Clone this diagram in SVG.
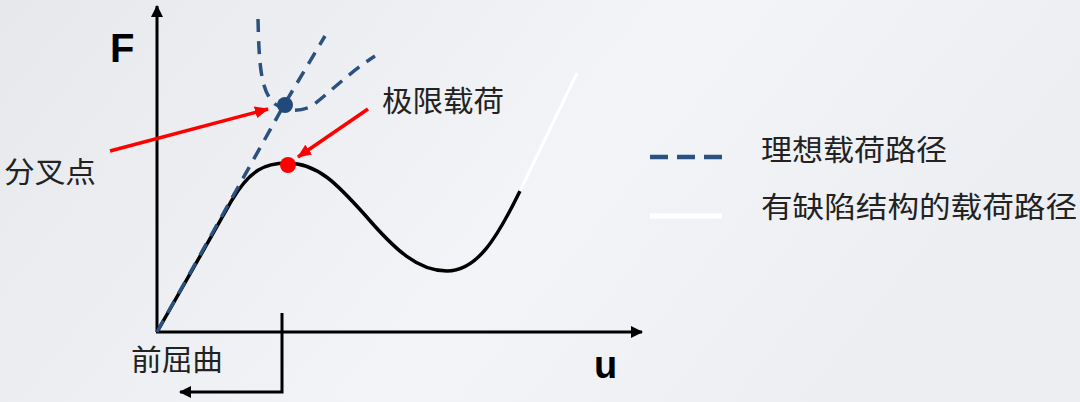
<svg xmlns="http://www.w3.org/2000/svg" width="1080" height="402" viewBox="0 0 1080 402">
<defs>
<linearGradient id="bg" x1="0" y1="0" x2="1" y2="0.3">
<stop offset="0" stop-color="#e6e8eb"/>
<stop offset="0.6" stop-color="#f2f4f7"/>
<stop offset="1" stop-color="#eceef1"/>
</linearGradient>
<marker id="blk" viewBox="0 0 12 12" refX="11" refY="6" markerWidth="12" markerHeight="12" markerUnits="userSpaceOnUse" orient="auto">
<path d="M0,0 L12,6 L0,12 Z" fill="#000"/>
</marker>
<marker id="red" viewBox="0 0 14 12" refX="13" refY="6" markerWidth="14" markerHeight="12" markerUnits="userSpaceOnUse" orient="auto">
<path d="M0,0 L14,6 L0,12 Z" fill="#ff0000"/>
</marker>
</defs>
<style>
.cn{font-family:"Noto Sans CJK SC","Liberation Sans",sans-serif;font-size:29px;fill:#222;}
.lab{font-family:"Liberation Sans",Arial,sans-serif;font-weight:bold;fill:#000;}
.axis{stroke:#000;stroke-width:3;fill:none;}
.dash{stroke:#2b5181;stroke-width:3.5;fill:none;stroke-dasharray:13 9;}
.arr{stroke:#ff0000;stroke-width:3.5;fill:none;}
</style>
<rect x="0" y="0" width="1080" height="402" fill="url(#bg)"/>
<g id="axes">
<line class="axis" x1="157" y1="332" x2="157" y2="6" marker-end="url(#blk)"/>
<line class="axis" x1="156" y1="332" x2="642" y2="332" marker-end="url(#blk)"/>
<text class="lab" x="110" y="62" font-size="40">F</text>
<text class="lab" x="594" y="378" font-size="38">u</text>
</g>
<g id="imperfect-path">
<path d="M157,332 L232,200 C250,170 265,163 287,163 C318,163 338,185 365,215 C395,250 418,271 447,271 C477,271 497,238 520,191" fill="none" stroke="#000" stroke-width="3.5"/>
<line x1="520" y1="191" x2="577" y2="73" stroke="#ffffff" stroke-width="3"/>
</g>
<g id="ideal-path">
<path class="dash" d="M157,332 L284,105 L325,36"/>
<path class="dash" d="M258,19 C259,60 260,92 275,104 C285,112 300,112 312,106 C330,92 350,72 375,56"/>
<circle cx="285" cy="105" r="8" fill="#214a7a"/>
</g>
<g id="limit-point">
<circle cx="288" cy="165" r="8" fill="#ff0000"/>
</g>
<g id="connectors">
<line class="arr" x1="110" y1="151" x2="268" y2="109" marker-end="url(#red)"/>
<line class="arr" x1="368" y1="109" x2="298" y2="157" marker-end="url(#red)"/>
<polyline class="axis" points="282,313 282,392 180,392" marker-end="url(#blk)"/>
</g>
<g id="labels">
<text class="cn" x="382" y="112" textLength="122" lengthAdjust="spacingAndGlyphs">极限载荷</text>
<text class="cn" x="4" y="183" textLength="92" lengthAdjust="spacingAndGlyphs">分叉点</text>
<text class="cn" x="131" y="371" textLength="92" lengthAdjust="spacingAndGlyphs">前屈曲</text>
</g>
<g id="legend">
<line x1="650" y1="157" x2="722" y2="157" stroke="#2b5181" stroke-width="4.5" stroke-dasharray="18 9"/>
<text class="cn" x="761" y="161" textLength="186" lengthAdjust="spacingAndGlyphs">理想载荷路径</text>
<line x1="650" y1="216" x2="722" y2="216" stroke="#ffffff" stroke-width="5"/>
<text class="cn" x="761" y="218" textLength="316" lengthAdjust="spacingAndGlyphs">有缺陷结构的载荷路径</text>
</g>
</svg>
